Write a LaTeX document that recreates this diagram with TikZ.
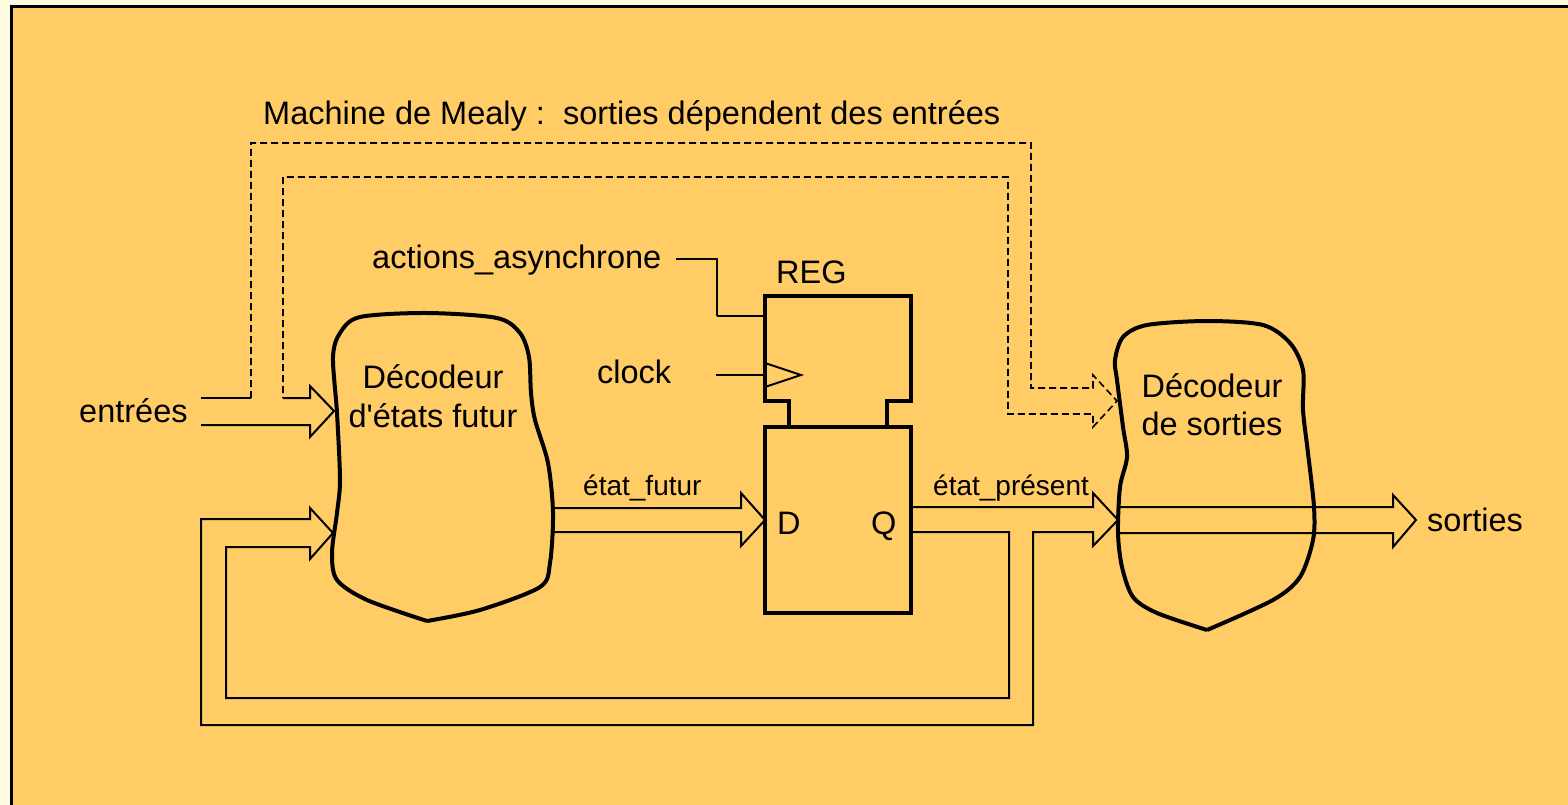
\documentclass[tikz,border=0pt]{standalone}
\usepackage{fontspec}
\setmainfont{Liberation Sans}
\newcommand{\straightapos}{\XeTeXglyph\XeTeXcharglyph"0027\relax}
\definecolor{cream}{HTML}{FDFBE0}
\definecolor{panel}{HTML}{FFCC66}
\tikzset{
  big/.style={font=\fontsize{32.5}{39}\selectfont, inner sep=0pt},
  small/.style={font=\fontsize{28}{33}\selectfont, inner sep=0pt},
  blob/.style={line width=4pt, line join=round},
  regbox/.style={line width=3.4pt, line join=miter},
  bus/.style={line width=2pt, line join=miter},
  dashbus/.style={line width=1.6pt, dash pattern=on 7pt off 4pt},
}
\begin{document}
\begin{tikzpicture}[x=1pt,y=-1pt]
\useasboundingbox (0,0) rectangle (1568,805);
\clip (0,0) rectangle (1568,805);
\fill[cream] (0,0) rectangle (1568,805);
\filldraw[fill=panel, draw=black, line width=3pt] (11,7) rectangle (1590,830);

% title
\node[big, anchor=base west] (title) at (263,125) {Machine de Mealy :\ \ sorties d\'ependent des entr\'ees};

% left decoder blob
\draw[blob] plot[smooth, tension=0.5] coordinates {
 (427,621) (367,600) (337,580) (332,553) (337,513) (340,480) (337,413) (333,357)
 (340,333) (360,317) (427,313) (497,318) (520,333) (529,357) (531,393) (535,420)
 (548,463) (553,513) (550,563) (540,587) (480,610) (427,621)};
\coordinate (dec1) at (433,400);
\node[big, anchor=base] (dec1a) at (433,388) {D\'ecodeur};
\node[big, anchor=base] (dec1b) at (433,427) {d\straightapos\'etats futur};

% right decoder blob
\draw[blob] plot[smooth, tension=0.5] coordinates {
 (1207,630) (1157,613) (1133,597) (1122,567) (1118,533) (1120,487) (1127,457)
 (1123,427) (1117,380) (1115,360) (1123,337) (1147,325) (1207,321) (1263,325)
 (1290,343) (1303,370) (1303,410) (1308,453) (1314,507) (1313,540) (1300,577)
 (1273,600) (1207,630)};
\coordinate (dec2) at (1212,410);
\node[big, anchor=base] (dec2a) at (1212,397) {D\'ecodeur};
\node[big, anchor=base] (dec2b) at (1212,435) {de sorties};

% register
\coordinate (regTL) at (765,296);
\coordinate (regBR) at (911,613);
\draw[regbox] (789,427) -- (789,401) -- (765,401) -- (765,296) -- (911,296) -- (911,401) -- (887,401) -- (887,427);
\draw[regbox] (765,427) rectangle (911,613);
\node[big, anchor=base west] (reg) at (776,283) {REG};
\node[big, anchor=base west] (dlab) at (777,534) {D};
\node[big, anchor=base west] (qlab) at (871,534) {Q};

% clock
\node[big, anchor=base west] (clock) at (597,383) {clock};
\coordinate (clkin) at (716,375);
\coordinate (clkpin) at (765,375);
\draw[bus] (clkin) -- (clkpin);
\draw[bus] (765,363) -- (801,375) -- (765,387);

% asynchronous actions
\node[big, anchor=base west] (async) at (372,268) {actions\_asynchrone};
\coordinate (asyncin) at (676,259);
\draw[line width=2.8pt] (asyncin) -- (717,259) -- (717,316);
\draw[bus] (717,316) -- (765,316);

% inputs
\node[big, anchor=base west] (entrees) at (79,422) {entr\'ees};
\draw[bus] (201,398) -- (251,398);
\draw[bus] (283,398) -- (310,398) -- (310,386) -- (334,411) -- (310,437) -- (310,425) -- (201,425);

% dashed Mealy path
\draw[dashbus] (251,398) -- (251,143) -- (1031,143) -- (1031,388) -- (1093,388) -- (1093,375)
  -- (1117,401) -- (1093,427) -- (1093,414) -- (1008,414) -- (1008,177) -- (283,177) -- (283,398);

% etat_futur bus
\node[small, anchor=base west] (futur) at (583,495) {\'etat\_futur};
\draw[bus] (553,508) -- (741,508) -- (741,493) -- (765,520) -- (741,546) -- (741,532) -- (553,532);

% etat_present bus and feedback
\node[small, anchor=base west] (present) at (933,495) {\'etat\_pr\'esent};
\draw[bus] (911,507) -- (1093,507) -- (1093,493) -- (1118,520) -- (1093,546) -- (1093,532)
  -- (1033,532) -- (1033,725) -- (201,725) -- (201,519) -- (310,519) -- (310,508) -- (333,533)
  -- (310,559) -- (310,547) -- (226,547) -- (226,698) -- (1009,698) -- (1009,532) -- (911,532);

% outputs
\draw[bus] (1117,507) -- (1393,507) -- (1393,495) -- (1416,520) -- (1393,547) -- (1393,533) -- (1117,533);
\node[big, anchor=base west] (sorties) at (1427,531) {sorties};
\end{tikzpicture}
\end{document}
